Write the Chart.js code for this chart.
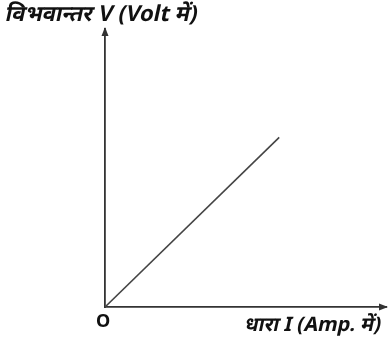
<!DOCTYPE html>
<html>
<head>
<meta charset="utf-8">
<script src="https://cdn.jsdelivr.net/npm/chart.js@4/dist/chart.umd.min.js"></script>
<style>
  html, body { margin: 0; padding: 0; background: #fff; }
  #wrap { width: 389px; height: 345px; }
</style>
</head>
<body>
<div id="wrap"><canvas id="viChart" width="389" height="345"></canvas></div>
<script>
(function () {
    'use strict';

    // V-I graph: straight line through origin (Ohm's law)
    var currentI = [0, 6.2];
    var voltageV = [0, 6.1];
    var axisMax  = [10, 10];   // x max, y max
    var yLabel   = 'विभवान्तर V (Volt में)';
    var xLabel   = 'धारा I (Amp. में)';
    var originLabel = 'O';

    var ink = '#333333';
    var font = '"Noto Sans", "Open Sans", sans-serif';

    // draws slanted text (the Devanagari font has no italic face)
    function slantText(ctx, text, x, y, align) {
        ctx.save();
        ctx.translate(x, y);
        ctx.transform(1, 0, -0.22, 1, 0, 0);
        ctx.textAlign = align;
        ctx.fillText(text, 0, 0);
        ctx.restore();
    }

    // arrows on the axes and the axis captions
    var axisDecor = {
        id: 'axisDecor',
        afterDraw: function (chart) {
            var ctx = chart.ctx;
            var a = chart.chartArea;
            ctx.save();
            ctx.fillStyle = ink;

            // y arrow
            ctx.beginPath();
            ctx.moveTo(a.left, a.top - 2);
            ctx.lineTo(a.left - 3.5, a.top + 7);
            ctx.lineTo(a.left + 3.5, a.top + 7);
            ctx.closePath();
            ctx.fill();

            // x arrow
            ctx.beginPath();
            ctx.moveTo(a.right + 2, a.bottom);
            ctx.lineTo(a.right - 7, a.bottom - 3.5);
            ctx.lineTo(a.right - 7, a.bottom + 3.5);
            ctx.closePath();
            ctx.fill();

            ctx.fillStyle = '#111';
            ctx.textBaseline = 'middle';

            ctx.font = 'bold 22px ' + font;
            slantText(ctx, yLabel, 6, 15, 'left');

            ctx.font = 'bold 20px ' + font;
            slantText(ctx, xLabel, 381, 325, 'right');

            ctx.font = 'bold 18px ' + font;
            ctx.textAlign = 'center';
            ctx.fillText(originLabel, a.left - 2, 322);
            ctx.restore();
        }
    };

    var points = currentI.map(function (x, i) { return { x: x, y: voltageV[i] }; });

    new Chart(document.getElementById('viChart'), {
        type: 'line',
        data: {
            datasets: [{
                data: points,
                borderColor: '#444444',
                borderWidth: 1.6,
                pointRadius: 0,
                fill: false,
                tension: 0
            }]
        },
        options: {
            responsive: false,
            animation: false,
            layout: { padding: { left: 105, right: 3, top: 29, bottom: 38 } },
            plugins: {
                legend: { display: false },
                tooltip: { enabled: false }
            },
            scales: {
                x: {
                    type: 'linear',
                    min: 0,
                    max: axisMax[0],
                    grid: { display: false, drawTicks: false },
                    ticks: { display: false },
                    border: { display: true, color: ink, width: 1.8 }
                },
                y: {
                    type: 'linear',
                    min: 0,
                    max: axisMax[1],
                    grid: { display: false, drawTicks: false },
                    ticks: { display: false },
                    border: { display: true, color: ink, width: 1.8 }
                }
            }
        },
        plugins: [axisDecor]
    });
})();
</script>
</body>
</html>
